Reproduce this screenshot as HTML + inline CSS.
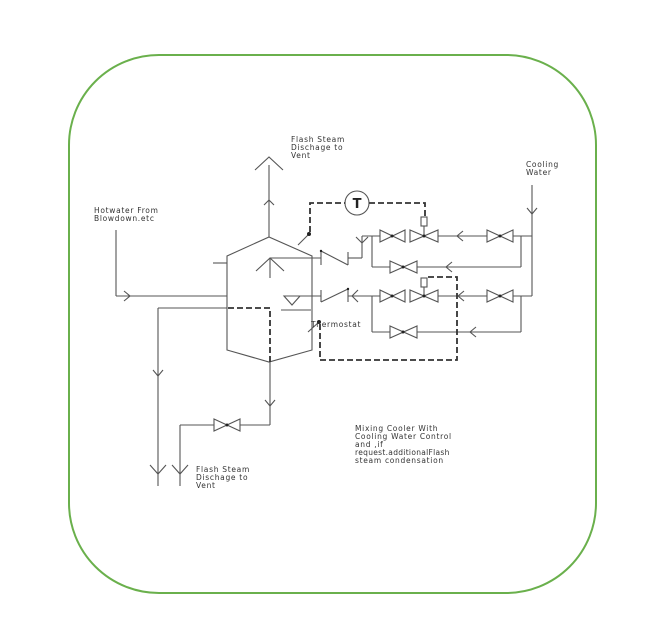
<!DOCTYPE html>
<html><head><meta charset="utf-8"><style>
html,body{margin:0;padding:0;background:#fff;}
svg{display:block;}
text{font-family:"DejaVu Sans","Liberation Sans",sans-serif;font-size:7.5px;fill:#333;letter-spacing:0.7px;}
</style></head><body>
<svg width="647" height="633" viewBox="0 0 647 633" xmlns="http://www.w3.org/2000/svg">
<rect x="69" y="55" width="527" height="538" rx="90" ry="90" fill="none" stroke="#6ab04c" stroke-width="2"/>
<g stroke="#555" stroke-width="1.1" fill="none">
<polygon points="227,256 269,237 312,256 312,350 269,362 227,350"/>
<line x1="213" y1="263" x2="227" y2="263"/>
<line x1="269" y1="165" x2="269" y2="237"/>
<polyline points="255,170 269,157 283,170"/>
<polyline points="264,205 269,200 274,205"/>
<line x1="270" y1="258" x2="270" y2="278"/>
<polyline points="256,271 270,258 284,271"/>
<line x1="270" y1="258" x2="321" y2="258"/>
<line x1="321" y1="251" x2="321" y2="265"/>
<line x1="321" y1="251" x2="348" y2="265"/>
<line x1="348" y1="252" x2="348" y2="265"/>
<line x1="348" y1="258" x2="362" y2="258"/>
<line x1="362" y1="258" x2="362" y2="236"/>
<polyline points="356,237 362,243 368,237"/>
<line x1="362" y1="236" x2="380" y2="236"/>
<line x1="372" y1="236" x2="372" y2="267"/>
<line x1="372" y1="267" x2="521" y2="267"/>
<line x1="521" y1="267" x2="521" y2="236"/>
<line x1="438" y1="236" x2="487" y2="236"/>
<line x1="513" y1="236" x2="532" y2="236"/>
<polyline points="463,231 457,236 463,241"/>
<polyline points="452,262 446,267 452,272"/>
<line x1="532" y1="185" x2="532" y2="296"/>
<polyline points="527,208 532,214 537,208"/>
<line x1="348" y1="296" x2="380" y2="296"/>
<line x1="438" y1="296" x2="487" y2="296"/>
<line x1="513" y1="296" x2="532" y2="296"/>
<polyline points="464,291 458,296 464,301"/>
<polyline points="358,290 352,296 358,302"/>
<line x1="372" y1="296" x2="372" y2="332"/>
<line x1="372" y1="332" x2="521" y2="332"/>
<line x1="521" y1="332" x2="521" y2="296"/>
<polyline points="476,327 470,332 476,337"/>
<line x1="321" y1="290" x2="321" y2="302"/>
<line x1="321" y1="302" x2="348" y2="289"/>
<line x1="348" y1="289" x2="348" y2="302"/>
<line x1="300" y1="296" x2="321" y2="296"/>
<polygon points="284,296 300,296 292,305"/>
<line x1="281" y1="310" x2="311" y2="310"/>
<line x1="116" y1="230" x2="116" y2="296"/>
<line x1="116" y1="296" x2="227" y2="296"/>
<polyline points="124,291 130,296 124,301"/>
<line x1="158" y1="308" x2="227" y2="308"/>
<line x1="158" y1="308" x2="158" y2="486"/>
<polyline points="153,370 158,376 163,370"/>
<polyline points="150,465 158,474 166,465"/>
<line x1="270" y1="362" x2="270" y2="425"/>
<polyline points="265,400 270,406 275,400"/>
<line x1="180" y1="425" x2="214" y2="425"/>
<line x1="240" y1="425" x2="270" y2="425"/>
<line x1="180" y1="425" x2="180" y2="486"/>
<polyline points="172,465 180,474 188,465"/>
<line x1="298" y1="245" x2="309" y2="234"/>
<line x1="308" y1="332" x2="319" y2="322"/>
</g>
<g stroke="#555" stroke-width="1.1" fill="#fff">
<path d="M380,230 L405,242 L405,230 L380,242 Z"/>
<path d="M410,230 L438,242 L438,230 L410,242 Z"/>
<path d="M487,230 L513,242 L513,230 L487,242 Z"/>
<path d="M390,261 L417,273 L417,261 L390,273 Z"/>
<path d="M380,290 L405,302 L405,290 L380,302 Z"/>
<path d="M410,290 L438,302 L438,290 L410,302 Z"/>
<path d="M487,290 L513,302 L513,290 L487,302 Z"/>
<path d="M390,326 L417,338 L417,326 L390,338 Z"/>
<path d="M214,419 L240,431 L240,419 L214,431 Z"/>
<line x1="424" y1="236" x2="424" y2="226"/>
<rect x="421" y="217" width="6" height="9"/>
<line x1="424" y1="296" x2="424" y2="287"/>
<rect x="421" y="278" width="6" height="9"/>
<circle cx="357" cy="203" r="12"/>
</g>
<g fill="#222">
<circle cx="392" cy="236" r="1.5"/><circle cx="424" cy="236" r="1.5"/><circle cx="500" cy="236" r="1.5"/>
<circle cx="403" cy="267" r="1.5"/><circle cx="392" cy="296" r="1.5"/><circle cx="424" cy="296" r="1.5"/>
<circle cx="500" cy="296" r="1.5"/><circle cx="403" cy="332" r="1.5"/><circle cx="227" cy="425" r="1.5"/>
<circle cx="309" cy="234" r="2"/><circle cx="319" cy="322" r="2"/>
<circle cx="321" cy="251" r="1.2"/><circle cx="348" cy="289" r="1.2"/>
</g>
<text x="357" y="208" style="font-size:13px;font-weight:bold;fill:#222;letter-spacing:0" text-anchor="middle">T</text>
<g stroke="#333" stroke-width="1.8" fill="none" stroke-dasharray="6,3">
<polyline points="310,232 310,203 345,203"/>
<polyline points="369,203 425,203 425,217"/>
<polyline points="320,324 320,360 457,360 457,277 426,277 426,278"/>
<polyline points="228,308 270,308 270,362"/>
</g>
<text x="291" y="142">Flash Steam</text>
<text x="291" y="150">Dischage to</text>
<text x="291" y="158">Vent</text>
<text x="94" y="213">Hotwater From</text>
<text x="94" y="221">Blowdown.etc</text>
<text x="526" y="167">Cooling</text>
<text x="526" y="175">Water</text>
<text x="311" y="327">Thermostat</text>
<text x="355" y="431">Mixing Cooler With</text>
<text x="355" y="439">Cooling Water Control</text>
<text x="355" y="447">and ,if</text>
<text x="355" y="455" style="letter-spacing:0.3px">request.additionalFlash</text>
<text x="355" y="463">steam condensation</text>
<text x="196" y="472">Flash Steam</text>
<text x="196" y="480">Dischage to</text>
<text x="196" y="488">Vent</text>
</svg>
</body></html>
